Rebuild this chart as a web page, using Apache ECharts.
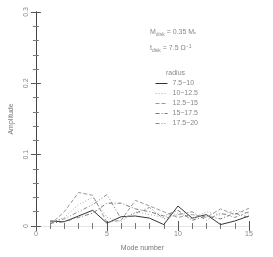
<!DOCTYPE html>
<html><head><meta charset="utf-8">
<script src="https://cdn.jsdelivr.net/npm/echarts@6/dist/echarts.min.js"></script>
<style>html,body{margin:0;padding:0;background:#fff}#c{width:273px;height:257px}</style>
</head><body><div id="c"></div>
<script>
const modes = [1,2,3,4,5,6,7,8,9,10,11,12,13,14,15];
const seriesNames = ['7.5\u221210','10\u221212.5','12.5\u221215','15\u221217.5','17.5\u221220'];
const r1 = [0.007,0.006,0.014,0.022,0.004,0.013,0.014,0.011,0.002,0.028,0.011,0.016,0.002,0.007,0.014];
const r2 = [0.004,0.012,0.030,0.040,0.012,0.006,0.020,0.016,0.012,0.018,0.010,0.020,0.015,0.022,0.018];
const r3 = [0.002,0.020,0.047,0.043,0.005,0.008,0.036,0.028,0.020,0.012,0.016,0.012,0.024,0.016,0.025];
const r4 = [0.004,0.006,0.012,0.018,0.032,0.032,0.024,0.020,0.014,0.022,0.008,0.014,0.010,0.018,0.012];
const r5 = [0.006,0.010,0.020,0.030,0.044,0.010,0.018,0.026,0.010,0.016,0.020,0.008,0.018,0.012,0.020];
const yTicks = [0,0.1,0.2,0.3];
const xTicks = [0,5,10,15];

const allVals = [r1,r2,r3,r4,r5];
const styles = [
  {color:'#333', type:'solid'},
  {color:'#aaa', type:[1,2]},
  {color:'#999', type:[4,2]},
  {color:'#777', type:[4,2,1,2]},
  {color:'#888', type:[4,2,1,2,1,2]}
];
const chart = echarts.init(document.getElementById('c'), null, {renderer:'canvas'});
const font = 'Liberation Sans';
function axisCommon(lineColor){
  return {
    axisLine:{show:true,lineStyle:{color:lineColor,width:1}},
    axisTick:{show:true,inside:true,length:5,lineStyle:{color:'#555'}},
    minorTick:{show:true,splitNumber:5,length:3,lineStyle:{color:'#777'}},
    splitLine:{show:false}
  };
}
chart.setOption({
  animation:false,
  grid:{left:32,right:24,top:12,bottom:29},
  textStyle:{fontFamily:font},
  xAxis:[
    Object.assign({type:'value',min:0,max:15,interval:5,position:'bottom',
      name:'Mode number',nameLocation:'middle',nameGap:19,
      nameTextStyle:{fontSize:7,color:'#777',fontFamily:font},
      axisLabel:{fontSize:7,color:'#888',margin:5,fontFamily:font,
        formatter:v=>xTicks.includes(v)?String(v):''}},axisCommon('#444')),
    Object.assign({type:'value',min:0,max:15,interval:5,position:'top',
      axisLabel:{show:false}},axisCommon('#e4e4e4'))
  ],
  yAxis:[
    Object.assign({type:'value',min:0,max:0.3,interval:0.1,position:'left',
      name:'Amplitude',nameLocation:'middle',nameGap:17,nameRotate:90,
      nameTextStyle:{fontSize:7,color:'#777',fontFamily:font},
      axisLabel:{fontSize:7,color:'#888',rotate:90,margin:6,fontFamily:font,
        formatter:v=>{const t=yTicks.find(x=>Math.abs(x-v)<1e-9);return t===undefined?'':(t===0?'0':String(t));}}},axisCommon('#444')),
    Object.assign({type:'value',min:0,max:0.3,interval:0.1,position:'right',
      axisLabel:{show:false}},axisCommon('#444'))
  ],
  legend:{
    orient:'vertical',left:150,top:75,itemWidth:12,itemHeight:7,itemGap:3,
    itemStyle:{opacity:0},
    lineStyle:{width:1},
    textStyle:{fontSize:7,color:'#888',fontFamily:font},
    data:seriesNames
  },
  title:[
    {text:'radius',left:161,top:65,textStyle:{fontSize:7,fontWeight:'normal',color:'#888',fontFamily:font}},
    {text:'{n|M}{s|disk} = 0.35 {n|M}{s|*}',left:145,top:23,
      textStyle:{rich:{n:{fontSize:7,color:'#888',fontFamily:font},s:{fontSize:5,color:'#888',padding:[4,0,0,0],fontFamily:font}},fontSize:7,color:'#888',fontWeight:'normal',fontFamily:font}},
    {text:'{n|t}{s|disk} = 7.5 \u03a9{p|\u22121}',left:145,top:39,
      textStyle:{rich:{n:{fontSize:7,color:'#888',fontFamily:font},s:{fontSize:5,color:'#888',padding:[4,0,0,0],fontFamily:font},p:{fontSize:5,color:'#888',padding:[0,0,4,0],fontFamily:font}},fontSize:7,color:'#888',fontWeight:'normal',fontFamily:font}}
  ],
  series: allVals.map((vals,i)=>({
    name:seriesNames[i],type:'line',showSymbol:false,symbol:'none',
    data:modes.map((m,j)=>[m,vals[j]]),
    lineStyle:{color:styles[i].color,width:1,type:styles[i].type},
    itemStyle:{color:styles[i].color}
  }))
});
</script></body></html>
